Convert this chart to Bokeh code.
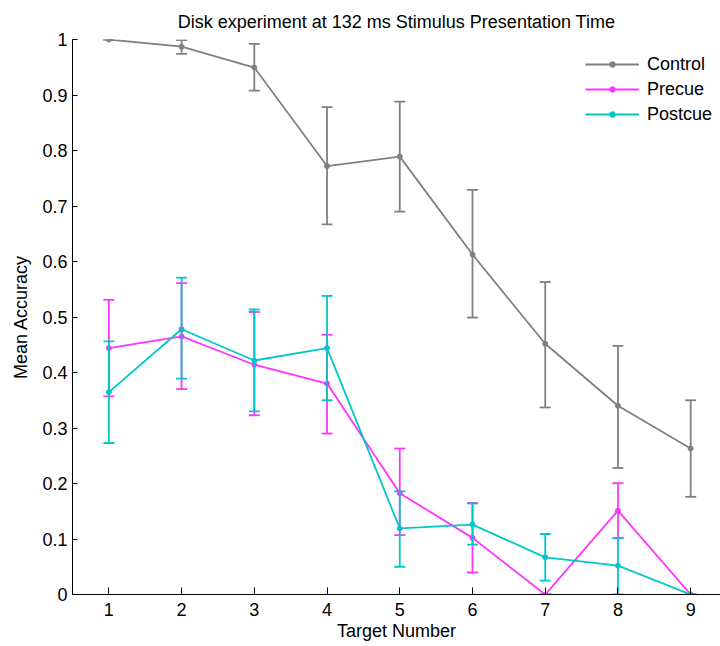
from bokeh.plotting import figure
from bokeh.models import (ColumnDataSource, Whisker, TeeHead, FixedTicker,
                          Legend, LegendItem, Range1d)
from bokeh.embed import file_html
from bokeh.resources import INLINE

# ---- data ----
targets = [1, 2, 3, 4, 5, 6, 7, 8, 9]

control = [1.0, 0.987, 0.9495, 0.772, 0.789, 0.6126, 0.4517, 0.340, 0.263]
control_up = [1.0, 0.999, 0.992, 0.878, 0.888, 0.729, 0.563, 0.448, 0.350]
control_lo = [1.0, 0.974, 0.908, 0.667, 0.690, 0.499, 0.337, 0.228, 0.176]

precue = [0.444, 0.465, 0.414, 0.380, 0.1826, 0.102, 0.0, 0.151, 0.0]
precue_up = [0.531, 0.561, 0.509, 0.468, 0.263, 0.165, 0.0, 0.2006, 0.0]
precue_lo = [0.357, 0.370, 0.323, 0.290, 0.107, 0.0396, 0.0, 0.101, 0.0]

postcue = [0.3646, 0.478, 0.4216, 0.444, 0.119, 0.126, 0.067, 0.052, 0.0]
postcue_up = [0.456, 0.571, 0.5135, 0.538, 0.186, 0.164, 0.109, 0.102, 0.0]
postcue_lo = [0.273, 0.389, 0.330, 0.350, 0.050, 0.090, 0.025, 0.0, 0.0]

series_names = ["Control", "Precue", "Postcue"]
series_colors = ["#808080", "#ff33ff", "#00c8c8"]

y_ticks = [0, 0.1, 0.2, 0.3, 0.4, 0.5, 0.6, 0.7, 0.8, 0.9, 1]
y_tick_labels = ["0", "0.1", "0.2", "0.3", "0.4", "0.5", "0.6", "0.7", "0.8", "0.9", "1"]

title_text = "Disk experiment at 132 ms Stimulus Presentation Time"
x_label = "Target Number"
y_label = "Mean Accuracy"

FONT = "Liberation Sans"
FS = "18px"

p = figure(width=720, height=646, output_backend="svg", toolbar_location=None,
           x_range=Range1d(0.5, 9.41), y_range=Range1d(0, 1),
           min_border_left=72, min_border_right=0, min_border_top=39,
           min_border_bottom=52, title=title_text)
p.outline_line_color = None
p.grid.visible = False
p.background_fill_color = "white"
p.border_fill_color = "white"

p.title.text_font = FONT
p.title.text_font_size = FS
p.title.text_font_style = "normal"
p.title.align = "center"
p.title.text_color = "black"
p.title.standoff = 16

for ax in (p.xaxis[0], p.yaxis[0]):
    ax.axis_line_color = "black"
    ax.axis_line_width = 1
    ax.major_tick_line_color = "black"
    ax.minor_tick_line_color = None
    ax.major_tick_out = 0
    ax.major_label_text_font = FONT
    ax.major_label_text_font_size = FS
    ax.major_label_text_color = "black"
    ax.axis_label_text_font = FONT
    ax.axis_label_text_font_size = FS
    ax.axis_label_text_font_style = "normal"
    ax.axis_label_text_color = "black"

p.xaxis[0].ticker = FixedTicker(ticks=targets)
p.xaxis[0].major_tick_in = 7
p.xaxis[0].major_label_standoff = 8
p.xaxis[0].axis_label = x_label
p.xaxis[0].axis_label_standoff = 2

p.yaxis[0].ticker = FixedTicker(ticks=y_ticks)
p.yaxis[0].major_label_overrides = {t: l for t, l in zip(y_ticks, y_tick_labels)}
p.yaxis[0].major_tick_in = 5
p.yaxis[0].major_label_standoff = 5
p.yaxis[0].axis_label = y_label
p.yaxis[0].axis_label_standoff = 8

all_vals = [control, precue, postcue]
all_up = [control_up, precue_up, postcue_up]
all_lo = [control_lo, precue_lo, postcue_lo]

items = []
for name, color, vals, up, lo in zip(series_names, series_colors, all_vals, all_up, all_lo):
    src = ColumnDataSource(dict(x=targets, y=vals, upper=up, lower=lo))
    w = Whisker(base="x", upper="upper", lower="lower", source=src,
                line_color=color, line_width=1.8, level="glyph",
                upper_head=TeeHead(size=11, line_color=color, line_width=1.8),
                lower_head=TeeHead(size=11, line_color=color, line_width=1.8))
    p.add_layout(w)
    ln = p.line("x", "y", source=src, line_color=color, line_width=1.8)
    sc = p.scatter("x", "y", source=src, size=5, fill_color=color, line_color=color)
    items.append(LegendItem(label=name, renderers=[ln, sc]))

legend = Legend(items=items, location=(513, 469), padding=0, margin=0,
                border_line_alpha=0, background_fill_alpha=0,
                glyph_width=54, glyph_height=14, label_height=22,
                label_standoff=8, spacing=3,
                label_text_font=FONT, label_text_font_size=FS,
                label_text_color="black")
p.add_layout(legend, "center")

open("out.html", "w").write(file_html(p, INLINE))
